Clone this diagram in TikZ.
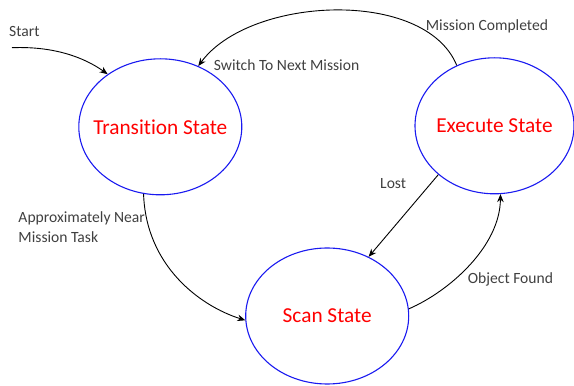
\documentclass[tikz,border=0pt]{standalone}
\usepackage{fontspec}
\setmainfont{Carlito}[Ligatures=NoCommon]
\usetikzlibrary{shapes.geometric,arrows.meta}
\definecolor{lbl}{HTML}{404040}
\definecolor{ellblue}{HTML}{1A1AF0}
\begin{document}
\begin{tikzpicture}[x=1pt,y=1pt,
  statebox/.style={draw=ellblue,line width=1.1pt,ellipse,inner sep=0pt,
    minimum width=163pt,minimum height=136pt},
  sttext/.style={text=red,font=\fontsize{21.3}{25}\selectfont,inner sep=0pt},
  lab/.style={text=lbl,font=\fontsize{15.6}{19.5}\selectfont,inner sep=0pt},
  conn/.style={draw=black,line width=0.9pt,-{Stealth[length=8pt,width=6.5pt]}}]
\useasboundingbox (0,0) rectangle (574,386);
\node[statebox] (tr) at (160.3,259.2) {};
\node[statebox,minimum width=159pt] (exe) at (494.5,260.2) {};
\node[statebox] (scan) at (327.2,70) {};
\node[sttext] (trt) at (tr.center) {Transition State};
\node[sttext] (exet) at (exe.center) {Execute State};
\node[sttext] (scant) at (scan.center) {Scan State};
\coordinate (st) at (12,338.3);
\draw[conn] (st) .. controls (55,340) and (85,328) .. (tr.135);
\draw[conn] (exe.122) .. controls (425,398) and (250,390) .. (tr.58);
\draw[conn] (tr.256) .. controls (146,120) and (200,80) .. (scan.183);
\draw[conn] (exe.221) -- (scan.55);
\draw[conn] (scan.5) .. controls (450,95) and (500,140) .. (exe.275);
\node[lab,anchor=west] (lstart) at (9,354.5) {Start};
\node[lab,anchor=west] (lswitch) at (213.7,321) {Switch To Next Mission};
\node[lab,anchor=west] (lmc) at (425.7,359.3) {Mission Completed};
\node[lab,anchor=west] (llost) at (380,202.5) {Lost};
\node[lab,anchor=north west,align=left] (lapp) at (18.3,174.5) {Approximately Near\\Mission Task};
\node[lab,anchor=west] (lobj) at (467.7,107) {Object Found};
\end{tikzpicture}
\end{document}
